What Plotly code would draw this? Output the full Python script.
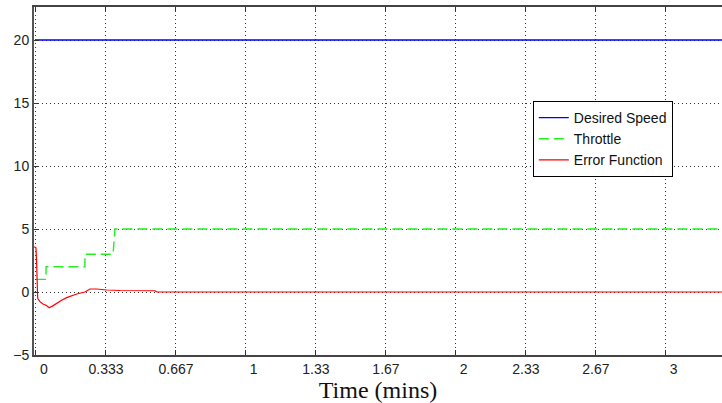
import plotly.graph_objects as go

# Time in minutes
t_desired = [0.0, 3.333]
desired_speed = [20, 20]

t_throttle = [0.0, 0.048, 0.048, 0.233, 0.233, 0.367, 0.376, 3.333]
throttle = [1, 1, 2, 2, 3, 3, 5, 5]

t_error = [-0.008, 0.0, 0.003, 0.005, 0.008, 0.019, 0.033, 0.048, 0.063, 0.080, 0.098,
           0.120, 0.146, 0.170, 0.194, 0.233, 0.257, 0.289, 0.337, 0.400, 0.462,
           0.567, 0.576, 3.333]
error_fn = [3.6, 3.5, 2.3, 0.8, -0.5, -0.77, -0.95, -1.05, -1.25, -1.1, -0.9,
            -0.68, -0.45, -0.28, -0.16, 0.0, 0.24, 0.24, 0.16, 0.12, 0.1,
            0.1, 0.0, 0.0]

x_tickvals = [0, 0.3333, 0.6667, 1.0, 1.3333, 1.6667, 2.0, 2.3333, 2.6667, 3.0]
x_ticktext = ["\u00a0\u00a0\u00a0\u00a00", "0.333", "0.667", "\u00a0\u00a0\u00a0\u00a01",
              "1.33", "1.67", "\u00a0\u00a0\u00a0\u00a02", "2.33", "2.67",
              "\u00a0\u00a0\u00a0\u00a03"]
y_tickvals = [-5, 0, 5, 10, 15, 20]

fig = go.Figure()
fig.add_trace(go.Scatter(x=t_desired, y=desired_speed, mode="lines", name="Desired Speed",
                         line=dict(color="#0000ff", width=1.3)))
fig.add_trace(go.Scatter(x=t_throttle, y=throttle, mode="lines", name="Throttle",
                         line=dict(color="#22ee22", width=1.4, dash="10px,5px")))
fig.add_trace(go.Scatter(x=t_error, y=error_fn, mode="lines", name="Error Function",
                         line=dict(color="#ff0000", width=1.2)))

fig.update_layout(
    width=722, height=403,
    margin=dict(l=34, r=0, t=7, b=48),
    paper_bgcolor="white", plot_bgcolor="white",
    font=dict(family="Liberation Sans, Arial, sans-serif", size=14, color="#222"),
    showlegend=True,
    legend=dict(x=0.725, y=0.73, xanchor="left", yanchor="top",
                bgcolor="white", bordercolor="black", borderwidth=1,
                font=dict(size=14, color="#111"), tracegroupgap=0),
    xaxis=dict(range=[-0.0095, 3.267], tickvals=x_tickvals, ticktext=x_ticktext,
               showgrid=True, gridcolor="#333", griddash="1px,3px", gridwidth=1,
               zeroline=False, showline=True, linecolor="#444", linewidth=2,
               mirror="ticks", ticks="inside", ticklen=5, tickcolor="#333",
               title=dict(text="Time (mins)",
                          font=dict(family="Liberation Serif, Times New Roman, serif",
                                    size=24, color="#111"), standoff=2)),
    yaxis=dict(range=[-5, 22.62], tickvals=y_tickvals,
               showgrid=True, gridcolor="#333", griddash="1px,3px", gridwidth=1,
               zeroline=False, showline=True, linecolor="#555", linewidth=2,
               mirror=False, ticks="inside", ticklen=5, tickcolor="#333"),
)

fig.write_html("out.html")
